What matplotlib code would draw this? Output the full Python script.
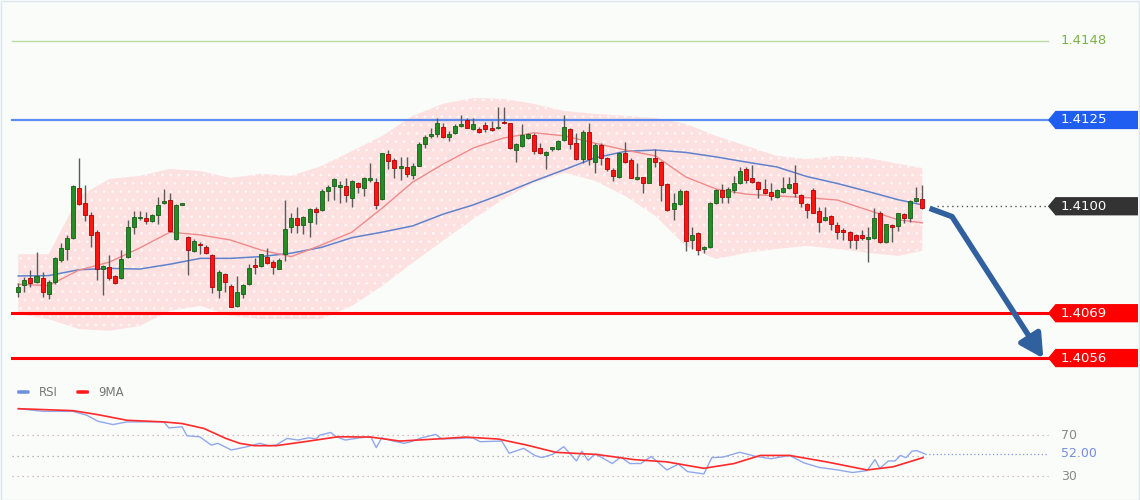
import numpy as np
import matplotlib
matplotlib.use("Agg")
import matplotlib.pyplot as plt
from matplotlib.patches import Polygon, FancyBboxPatch

# ---------------- data ----------------
opens = [1.40752,1.40771,1.40791,1.40781,1.40791,1.40745,1.40781,1.40844,1.40875,1.40907,
         1.41054,1.41008,1.40975,1.40926,1.40817,1.40825,1.40798,1.40791,1.40852,1.40939,
         1.40965,1.40967,1.40958,1.40975,1.41008,1.41018,1.40904,1.41005,1.40910,1.40871,
         1.40892,1.40883,1.40858,1.40757,1.40805,1.40769,1.40711,1.40745,1.40774,1.40830,
         1.40827,1.40854,1.40837,1.40818,1.40861,1.40939,1.40965,1.40946,1.40955,1.40992,
         1.40989,1.41044,1.41059,1.41055,1.41059,1.41023,1.41068,1.41054,1.41076,1.41071,
         1.41020,1.41150,1.41134,1.41112,1.41115,1.41090,1.41117,1.41180,1.41204,1.41209,
         1.41231,1.41202,1.41211,1.41233,1.41250,1.41223,1.41223,1.41236,1.41223,1.41226,
         1.41245,1.41240,1.41163,1.41175,1.41197,1.41206,1.41170,1.41148,1.41166,1.41166,
         1.41192,1.41223,1.41184,1.41136,1.41216,1.41129,1.41178,1.41141,1.41105,1.41086,
         1.41155,1.41134,1.41079,1.41084,1.41068,1.41139,1.41129,1.41064,1.40991,1.41006,
         1.41044,1.40902,1.40923,1.40875,1.40881,1.41010,1.41047,1.41026,1.41047,1.41068,
         1.41107,1.41081,1.41071,1.41049,1.41042,1.41026,1.41042,1.41052,1.41066,1.41032,
         1.41006,1.41047,1.40987,1.40960,1.40972,1.40945,1.40931,1.40926,1.40917,1.40917,
         1.40905,1.40907,1.40981,1.40897,1.40945,1.40943,1.40977,1.40965,1.41016,1.41020]
highs = [1.40778,1.40796,1.40815,1.40867,1.40810,1.40786,1.40853,1.40893,1.40917,1.41062,
         1.41139,1.41062,1.40984,1.40931,1.40830,1.40859,1.40801,1.40873,1.40960,1.40987,
         1.40987,1.40984,1.40977,1.41028,1.41049,1.41037,1.41006,1.41007,1.40914,1.40904,
         1.40897,1.40887,1.40861,1.40815,1.40807,1.40774,1.40798,1.40776,1.40834,1.40849,
         1.40863,1.40878,1.40844,1.40849,1.41018,1.40979,1.40999,1.40972,1.40994,1.40999,
         1.41049,1.41062,1.41081,1.41074,1.41081,1.41076,1.41071,1.41086,1.41126,1.41081,
         1.41155,1.41163,1.41139,1.41144,1.41144,1.41124,1.41187,1.41206,1.41226,1.41255,
         1.41240,1.41218,1.41237,1.41264,1.41255,1.41255,1.41231,1.41245,1.41247,1.41289,
         1.41289,1.41242,1.41182,1.41237,1.41211,1.41211,1.41182,1.41160,1.41173,1.41192,
         1.41264,1.41226,1.41213,1.41221,1.41242,1.41182,1.41182,1.41144,1.41110,1.41158,
         1.41187,1.41139,1.41126,1.41086,1.41141,1.41165,1.41131,1.41066,1.41039,1.41049,
         1.41047,1.40939,1.40926,1.40885,1.41013,1.41049,1.41064,1.41055,1.41088,1.41113,
         1.41115,1.41120,1.41074,1.41078,1.41066,1.41049,1.41086,1.41086,1.41120,1.41035,
         1.41010,1.41052,1.40999,1.40997,1.40975,1.40955,1.40936,1.40928,1.40919,1.40931,
         1.40941,1.40994,1.40986,1.40950,1.40948,1.40981,1.40979,1.41018,1.41057,1.41062]
lows = [1.40738,1.40752,1.40767,1.40778,1.40738,1.40730,1.40776,1.40839,1.40844,1.40904,
        1.41004,1.40958,1.40883,1.40786,1.40743,1.40786,1.40776,1.40788,1.40849,1.40921,
        1.40960,1.40950,1.40955,1.40948,1.41006,1.40926,1.40902,1.41004,1.40800,1.40868,
        1.40863,1.40861,1.40749,1.40733,1.40752,1.40708,1.40709,1.40733,1.40771,1.40805,
        1.40825,1.40832,1.40805,1.40817,1.40842,1.40923,1.40923,1.40919,1.40910,1.40948,
        1.40987,1.41016,1.41018,1.41010,1.41013,1.40997,1.41037,1.41030,1.41071,1.40991,
        1.41018,1.41108,1.41081,1.41076,1.41086,1.41079,1.41116,1.41168,1.41199,1.41202,
        1.41199,1.41189,1.41209,1.41231,1.41226,1.41220,1.41211,1.41216,1.41218,1.41223,
        1.41238,1.41166,1.41127,1.41173,1.41195,1.41150,1.41150,1.41108,1.41160,1.41163,
        1.41189,1.41165,1.41134,1.41126,1.41120,1.41097,1.41120,1.41103,1.41074,1.41081,
        1.41126,1.41081,1.41076,1.41039,1.41066,1.41115,1.41016,1.40987,1.40960,1.41004,
        1.40871,1.40875,1.40858,1.40865,1.40878,1.41006,1.41008,1.41008,1.41039,1.41064,
        1.41068,1.41066,1.41023,1.41035,1.41018,1.41023,1.41039,1.41049,1.41028,1.40999,
        1.40965,1.40979,1.40926,1.40957,1.40931,1.40904,1.40902,1.40878,1.40875,1.40902,
        1.40839,1.40904,1.40894,1.40894,1.40897,1.40929,1.40952,1.40955,1.41013,1.40991]
closes = [1.40767,1.40786,1.40778,1.40798,1.40752,1.40781,1.40849,1.40878,1.40907,1.41059,
          1.41006,1.40975,1.40917,1.40817,1.40827,1.40791,1.40778,1.40846,1.40939,1.40970,
          1.40970,1.40958,1.40975,1.41004,1.41016,1.40929,1.41004,1.41006,1.40872,1.40900,
          1.40887,1.40865,1.40767,1.40810,1.40781,1.40709,1.40752,1.40771,1.40822,1.40825,
          1.40861,1.40836,1.40823,1.40844,1.40933,1.40965,1.40946,1.40970,1.40991,1.40984,
          1.41044,1.41057,1.41078,1.41061,1.41032,1.41074,1.41055,1.41081,1.41081,1.41004,
          1.41153,1.41131,1.41112,1.41115,1.41093,1.41117,1.41180,1.41202,1.41209,1.41240,
          1.41202,1.41208,1.41233,1.41237,1.41228,1.41237,1.41214,1.41223,1.41221,1.41231,
          1.41240,1.41168,1.41180,1.41206,1.41208,1.41160,1.41155,1.41158,1.41171,1.41189,
          1.41231,1.41180,1.41136,1.41216,1.41136,1.41178,1.41141,1.41107,1.41088,1.41155,
          1.41129,1.41083,1.41084,1.41068,1.41139,1.41129,1.41062,1.40989,1.41008,1.41044,
          1.40900,1.40918,1.40872,1.40881,1.41010,1.41047,1.41026,1.41050,1.41068,1.41103,
          1.41076,1.41071,1.41049,1.41039,1.41030,1.41047,1.41052,1.41064,1.41037,1.41008,
          1.40989,1.40981,1.40955,1.40968,1.40948,1.40926,1.40926,1.40902,1.40902,1.40907,
          1.40909,1.40965,1.40897,1.40948,1.40939,1.40979,1.40965,1.41016,1.41023,1.40994]

# indicator readings, sampled every 5 candles
ind_idx = [0, 5, 10, 15, 20, 25, 30, 35, 40, 45, 50, 55, 60, 65, 70, 75, 80, 85, 90, 95,
           100, 105, 110, 115, 120, 125, 130, 135, 140, 145, 149]
ma_fast = [1.40774,1.40770,1.40815,1.40838,1.40879,1.40925,1.40917,1.40902,1.40873,1.40854,
           1.40888,1.40925,1.40995,1.41070,1.41122,1.41169,1.41198,1.41213,1.41204,1.41183,
           1.41163,1.41146,1.41085,1.41050,1.41035,1.41030,1.41025,1.41018,1.40989,1.40961,1.40952]
ma_slow = [1.40798,1.40799,1.40816,1.40820,1.40818,1.40832,1.40849,1.40849,1.40854,1.40864,
           1.40881,1.40909,1.40925,1.40943,1.40977,1.41004,1.41037,1.41073,1.41106,1.41140,
           1.41159,1.41163,1.41156,1.41143,1.41128,1.41114,1.41086,1.41066,1.41043,1.41019,1.41004]
band_up = [1.40861,1.40861,1.41029,1.41079,1.41088,1.41108,1.41102,1.41082,1.41094,1.41088,
           1.41117,1.41160,1.41204,1.41262,1.41297,1.41314,1.41311,1.41297,1.41276,1.41268,
           1.41262,1.41256,1.41239,1.41204,1.41175,1.41146,1.41137,1.41146,1.41140,1.41123,1.41111]
band_lo = [1.40688,1.40673,1.40644,1.40639,1.40653,1.40697,1.40711,1.40682,1.40673,1.40673,
           1.40673,1.40711,1.40769,1.40836,1.40900,1.40963,1.41021,1.41068,1.41097,1.41074,
           1.41030,1.40972,1.40885,1.40847,1.40865,1.40876,1.40885,1.40876,1.40865,1.40856,1.40871]

rsi_idx = [0, 4.2, 9.0, 11.3, 13.1, 15.6, 17.9, 20.9, 24.0, 24.8, 27.0, 27.8, 29.9, 31.8, 32.9,
           35.1, 37.7, 39.8, 41.3, 42.5, 44.3, 46.1, 47.9, 49.1, 49.7, 51.5, 52.4, 53.9, 56.3,
           58.1, 59.0, 59.9, 61.8, 63.6, 64.7, 66.5, 68.8, 69.8, 72.5, 74.9, 76.1, 79.7, 80.9,
           83.3, 85.2, 86.3, 88.1, 89.9, 92.0, 92.9, 93.9, 95.1, 97.9, 99.3, 100.8, 102.6,
           104.3, 106.9, 108.8, 110.3, 113.0, 114.3, 116.2, 118.9, 121.6, 124.1, 127.1, 129.5,
           132.0, 135.1, 137.5, 139.9, 141.2, 142.0, 143.4, 144.5, 145.4, 146.3, 147.3, 148.1, 149.4]
rsi_val = [96.1, 93.5, 93.5, 89.7, 83.9, 80.6, 83.2, 83.2, 83.2, 77.4, 78.4, 69.7, 68.7, 60.6, 62.3,
           55.8, 59.0, 62.3, 60.0, 60.6, 67.1, 65.5, 67.7, 66.5, 70.3, 72.9, 68.7, 65.5, 67.7,
           68.7, 58.1, 67.7, 64.5, 62.3, 63.9, 67.7, 71.0, 66.5, 67.1, 67.7, 63.9, 64.5, 52.6,
           57.4, 50.3, 48.4, 51.6, 59.0, 45.1, 54.6, 45.7, 52.0, 42.6, 48.9, 42.6, 42.6,
           49.5, 36.3, 42.0, 34.7, 32.5, 48.3, 48.9, 53.6, 49.5, 47.3, 50.5, 43.2,
           38.8, 36.3, 33.8, 35.7, 46.4, 37.9, 45.1, 45.1, 50.5, 48.3, 54.6, 55.2, 52.0]
ma9_idx = [0, 9.0, 13.1, 17.9, 24.0, 27.0, 30.6, 34.2, 36.5, 38.9, 42.5, 47.9, 52.7, 58.1, 62.9,
           68.8, 73.7, 79.1, 83.8, 88.6, 95.4, 101.5, 106.9, 113.0, 118.0, 122.3, 127.1,
           133.2, 139.9, 144.2, 149.1]
ma9_val = [96.1, 94.2, 90.3, 84.8, 83.2, 81.6, 76.8, 67.1, 62.3, 60.0, 60.0, 64.5, 68.7, 68.4, 64.5,
           66.5, 68.4, 66.5, 60.6, 53.5, 51.4, 46.4, 44.2, 37.9, 42.6, 50.5, 50.5,
           44.2, 36.3, 39.4, 48.3]

levels = [1.4148, 1.4125, 1.4069, 1.4056]
level_labels = ["1.4148", "1.4125", "1.4069", "1.4056"]
last_price = 1.4100
last_label = "1.4100"
rsi_last = 52.00
rsi_levels = [70, 30]
forecast_idx = [150.2, 153.9, 168.95]
forecast_px = [1.40994, 1.40970, 1.40559]

# ---------------- styling ----------------
BG = "#fafcfa"
GREEN_C = "#268c26"
GREEN_E = "#165e16"
RED_C = "#ff1414"
RED_E = "#b00000"
WICK = "#5a5a5a"

fig = plt.figure(figsize=(11.4, 5.0), dpi=100)
fig.patch.set_facecolor(BG)

ax = fig.add_axes([0, 0.24, 1, 0.76])
ax.set_facecolor(BG)
ax.set_xlim(-3.016, 184.88)
ax.set_ylim(1.404964, 1.415978)
ax.axis("off")

n = len(opens)
x = np.arange(n)
o = np.array(opens); h = np.array(highs); l = np.array(lows); c = np.array(closes)

# Bollinger band
plt.rcParams["hatch.linewidth"] = 0.8
ax.fill_between(ind_idx, band_lo, band_up, facecolor="#fde1e1", edgecolor="none", zorder=1)
ax.fill_between(ind_idx, band_lo, band_up, facecolor="none", edgecolor="#ffffff",
                hatch="..", linewidth=0, alpha=0.6, zorder=1.1)

# moving averages
ax.plot(ind_idx, ma_slow, color="#5f82cc", lw=1.1, zorder=2)
ax.plot(ind_idx, ma_fast, color="#f08a8a", lw=1.0, zorder=2)

# level lines
LX0, LX1 = -1.0, 169.7
ax.plot([LX0, LX1], [levels[0]] * 2, color="#b8dca0", lw=1.0, zorder=1.5)
ax.plot([LX0, LX1], [levels[1]] * 2, color="#5b8ef0", lw=1.6, zorder=1.5)
ax.plot([LX0, LX1], [levels[2]] * 2, color="#ff0000", lw=2.2, zorder=1.5)
ax.plot([LX0, LX1], [levels[3]] * 2, color="#ff0000", lw=2.2, zorder=1.5)
ax.plot([151.5, LX1], [last_price] * 2, color="#555555", lw=1.0, ls=(0, (1, 2.5)), zorder=1.5)

# candles
ax.vlines(x, l, h, color=WICK, lw=1.0, zorder=3)
green = c >= o
body_lo = np.minimum(o, c)
body_h = np.maximum(np.abs(c - o), 0.00005)
ax.bar(x[green], body_h[green], bottom=body_lo[green], width=0.66,
       color=GREEN_C, edgecolor=GREEN_E, linewidth=0.6, zorder=4)
ax.bar(x[~green], body_h[~green], bottom=body_lo[~green], width=0.66,
       color=RED_C, edgecolor=RED_E, linewidth=0.6, zorder=4)

# forecast arrow
ARROW_C = "#30609e"
ax.plot(forecast_idx[:2], forecast_px[:2], color=ARROW_C, lw=4.0,
        solid_capstyle="butt", zorder=5)
ax.annotate("", xy=(forecast_idx[2], forecast_px[2]), xytext=(forecast_idx[1], forecast_px[1]),
            arrowprops=dict(arrowstyle="-|>,head_length=1.4,head_width=0.75", lw=4.0,
                            color=ARROW_C, shrinkA=0, shrinkB=0, mutation_scale=10),
            zorder=5)

# tags
TX0, TX1 = 169.7, 184.55
HH = 0.000265
TIP = 1.25


def tag(axis, y, txt, color, hh=HH):
    pts = [(TX0, y), (TX0 + TIP, y + hh), (TX1, y + hh), (TX1, y - hh), (TX0 + TIP, y - hh)]
    axis.add_patch(Polygon(pts, closed=True, facecolor=color, edgecolor="none", zorder=6))
    axis.text(TX0 + 2.1, y, txt, color="white", fontsize=9.5, va="center", ha="left",
              family="DejaVu Sans", zorder=7)


ax.text(TX0 + 2.1, levels[0], level_labels[0], color="#7cb342", fontsize=9.5,
        va="center", ha="left")
tag(ax, levels[1], level_labels[1], "#1f5ef0")
tag(ax, last_price, last_label, "#333333")
tag(ax, levels[2], level_labels[2], "#ff0000")
tag(ax, levels[3], level_labels[3], "#ff0000")

# ---------------- RSI panel ----------------
ax2 = fig.add_axes([0, 0, 1, 0.24])
ax2.set_facecolor(BG)
ax2.set_xlim(-3.016, 184.88)
ax2.set_ylim(7.0, 124.1)
ax2.axis("off")

ax2.plot([LX0, LX1], [rsi_levels[0]] * 2, color="#d9a8a8", lw=0.9, ls=(0, (1, 3)))
ax2.plot([LX0, LX1], [rsi_levels[1]] * 2, color="#d9a8a8", lw=0.9, ls=(0, (1, 3)))
ax2.plot([LX0, 149.5], [50] * 2, color="#a89c9c", lw=0.9, ls=(0, (1, 3)))
ax2.plot([149.5, LX1], [rsi_last] * 2, color="#7d9be6", lw=0.9, ls=(0, (1, 2)))

ax2.plot(rsi_idx, rsi_val, color="#90a8ea", lw=1.0, zorder=3)
ax2.plot(ma9_idx, ma9_val, color="#ff2a2a", lw=1.2, zorder=4)

ax2.text(TX0 + 2.1, rsi_levels[0], "70", color="#888888", fontsize=9, va="center", ha="left")
ax2.text(TX0 + 2.1, rsi_levels[1], "30", color="#888888", fontsize=9, va="center", ha="left")
ax2.text(TX0 + 2.1, rsi_last, "%.2f" % rsi_last, color="#6f8fe0", fontsize=9,
         va="center", ha="left")

# legend
for sx, col, lab in [(0.015, "#6f8fe0", "RSI"), (0.067, "#ff1a1a", "9MA")]:
    ax2.add_patch(FancyBboxPatch((sx, 0.885), 0.011, 0.03,
                                 boxstyle="round,pad=0,rounding_size=0.004",
                                 transform=ax2.transAxes, facecolor=col, edgecolor="none"))
    ax2.text(sx + 0.019, 0.9, lab, transform=ax2.transAxes, color="#777777",
             fontsize=8.5, va="center", ha="left")

# frame
fig.patches.append(plt.Rectangle((0.0005, 0.001), 0.999, 0.998, transform=fig.transFigure,
                                 fill=False, edgecolor="#dde6ee", lw=1.0))

fig.savefig("out.png", dpi=100, facecolor=BG)
